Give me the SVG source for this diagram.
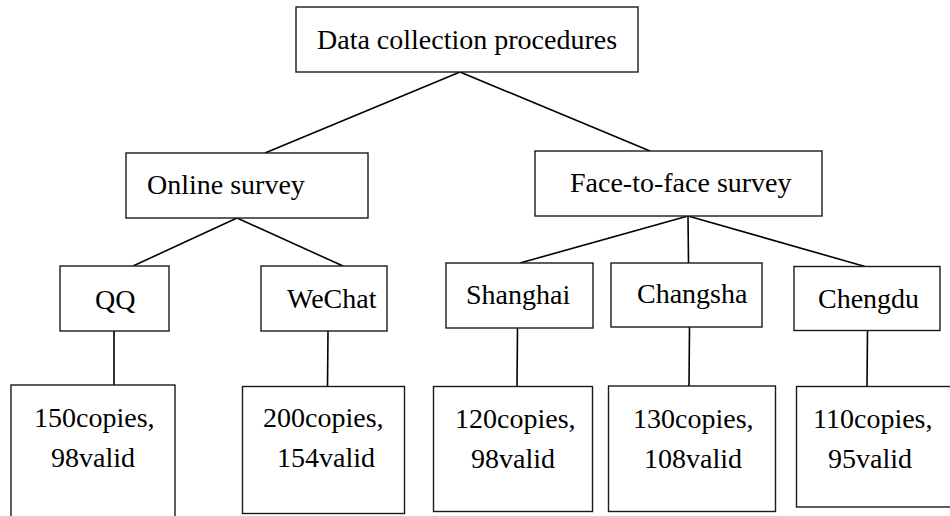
<svg xmlns="http://www.w3.org/2000/svg" width="950" height="516" viewBox="0 0 950 516">
<style>
.box{fill:#fff;stroke:#1a1a1a;stroke-width:1.4}
.t{font-family:'Liberation Serif',Tinos,'Times New Roman',Times,'DejaVu Serif',serif;font-size:28px;fill:#000}
.c{stroke:#000;stroke-width:1.6;fill:none}
</style>
<rect width="950" height="516" fill="#fff"/>
<g id="connectors">
<line class="c" x1="460" y1="72" x2="265" y2="153"/>
<line class="c" x1="460" y1="72" x2="650" y2="151"/>
<line class="c" x1="237" y1="218" x2="133" y2="266"/>
<line class="c" x1="237" y1="218" x2="343" y2="266"/>
<line class="c" x1="688" y1="216" x2="520" y2="263"/>
<line class="c" x1="688" y1="216" x2="688.5" y2="263"/>
<line class="c" x1="688" y1="216" x2="865" y2="266.5"/>
<line class="c" x1="114" y1="331" x2="114" y2="385"/>
<line class="c" x1="328" y1="331" x2="327.5" y2="386.5"/>
<line class="c" x1="517.5" y1="328" x2="517" y2="386.5"/>
<line class="c" x1="689.5" y1="327" x2="689" y2="386"/>
<line class="c" x1="867.5" y1="330.5" x2="867" y2="386.5"/>
</g>
<g id="root">
<rect class="box" x="296" y="7" width="342" height="65"/>
<text class="t" x="317" y="49">Data collection procedures</text>
</g>
<g id="online">
<rect class="box" x="126" y="153" width="242" height="65"/>
<text class="t" x="147" y="194">Online survey</text>
</g>
<g id="face">
<rect class="box" x="535" y="151" width="287" height="65"/>
<text class="t" x="570" y="192">Face-to-face survey</text>
</g>
<g id="qq">
<rect class="box" x="60" y="266" width="109" height="65"/>
<text class="t" x="95" y="309">QQ</text>
</g>
<g id="wechat">
<rect class="box" x="261" y="266" width="126" height="65"/>
<text class="t" x="287" y="308">WeChat</text>
</g>
<g id="shanghai">
<rect class="box" x="446" y="263" width="147" height="65"/>
<text class="t" x="466" y="304">Shanghai</text>
</g>
<g id="changsha">
<rect class="box" x="611" y="263" width="151" height="64"/>
<text class="t" x="637" y="303">Changsha</text>
</g>
<g id="chengdu">
<rect class="box" x="794" y="266.5" width="146" height="64"/>
<text class="t" x="818" y="308">Chengdu</text>
</g>
<g id="qq-result">
<rect class="box" x="11" y="385" width="164" height="140"/>
<text class="t" x="34" y="427">150copies,</text>
<text class="t" x="51" y="467">98valid</text>
</g>
<g id="wechat-result">
<rect class="box" x="242.5" y="386.5" width="162" height="127"/>
<text class="t" x="263" y="427">200copies,</text>
<text class="t" x="277" y="467">154valid</text>
</g>
<g id="shanghai-result">
<rect class="box" x="433.5" y="386.5" width="159" height="125"/>
<text class="t" x="455" y="428">120copies,</text>
<text class="t" x="471" y="468">98valid</text>
</g>
<g id="changsha-result">
<rect class="box" x="608.5" y="386" width="167" height="125.5"/>
<text class="t" x="633" y="428">130copies,</text>
<text class="t" x="644" y="468">108valid</text>
</g>
<g id="chengdu-result">
<rect class="box" x="796.5" y="386.5" width="160" height="120.5"/>
<text class="t" x="813" y="428">110copies,</text>
<text class="t" x="828" y="468">95valid</text>
</g>
</svg>
